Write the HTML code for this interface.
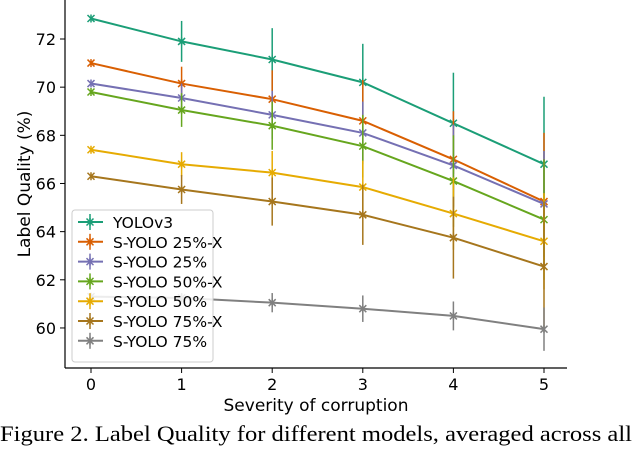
<!DOCTYPE html>
<html><head><meta charset="utf-8"><style>
body{margin:0;background:#fff;width:640px;height:447px;overflow:hidden}
svg text{font-family:"DejaVu Sans","Liberation Sans",sans-serif}
</style></head><body>
<svg id="chart" width="640" height="447" xmlns="http://www.w3.org/2000/svg">
<g id="axes"></g>
<g id="series"></g>
<g id="legend"></g>
<text x="316" y="411" font-size="17" text-anchor="middle" fill="#000">Severity of corruption</text>
<text transform="translate(30,184) rotate(-90)" font-size="17" text-anchor="middle" fill="#000">Label Quality (%)</text>
<text x="0" y="441" font-size="22" textLength="632" lengthAdjust="spacingAndGlyphs" style="font-family:'Liberation Serif',serif" fill="#000">Figure 2. Label Quality for different models, averaged across all</text>
</svg>
<script>
const severities=[0,1,2,3,4,5];
const yTicks=[60,62,64,66,68,70,72];
const seriesNames=["YOLOv3","S-YOLO 25%-X","S-YOLO 25%","S-YOLO 50%-X","S-YOLO 50%","S-YOLO 75%-X","S-YOLO 75%"];
const seriesColors=["#1b9e77","#d95f02","#7570b3","#66a61e","#e6ab02","#a6761d","#808080"];
const yolov3=[72.85,71.9,71.15,70.2,68.5,66.8];
const syolo25x=[71.0,70.15,69.5,68.6,67.0,65.25];
const syolo25=[70.15,69.55,68.85,68.1,66.75,65.15];
const syolo50x=[69.8,69.05,68.4,67.55,66.1,64.5];
const syolo50=[67.4,66.8,66.45,65.85,64.75,63.6];
const syolo75x=[66.3,65.75,65.25,64.7,63.75,62.55];
const syolo75=[61.3,61.25,61.05,60.8,60.5,59.95];
const errYolov3=[0,0.85,1.3,1.6,2.1,2.8];
const err25x=[0,0.7,1.2,1.7,2.0,2.85];
const err25=[0,0.6,1.0,1.3,1.7,2.2];
const err50x=[0,0.7,1.0,1.3,1.9,2.5];
const err50=[0,0.5,0.9,1.1,1.5,2.0];
const err75x=[0,0.6,1.0,1.25,1.7,2.7];
const err75=[0,0.2,0.4,0.55,0.6,0.9];
const allValues=[yolov3,syolo25x,syolo25,syolo50x,syolo50,syolo75x,syolo75];
const allErrors=[errYolov3,err25x,err25,err50x,err50,err75x,err75];

const NS="http://www.w3.org/2000/svg";
const X=v=>91+v*90.6;
const Y=v=>39+(72-v)*24.08;
function mk(tag,attrs,parent){const e=document.createElementNS(NS,tag);for(const k in attrs)e.setAttribute(k,attrs[k]);parent.appendChild(e);return e;}
const axes=document.getElementById('axes');
let sp=mk('line',{x1:65,y1:0,x2:65,y2:368,stroke:'#000','stroke-width':1.2},axes);


sp=mk('line',{x1:65,y1:368,x2:567,y2:368,stroke:'#000','stroke-width':1.2},axes);


severities.forEach(s=>{
  mk('line',{x1:X(s),y1:368,x2:X(s),y2:373,stroke:'#000'},axes);
  const t=mk('text',{x:X(s),y:390,'font-size':16,'text-anchor':'middle'},axes);t.textContent=s;
  
  
});
yTicks.forEach(v=>{
  mk('line',{x1:60,y1:Y(v),x2:65,y2:Y(v),stroke:'#000'},axes);
  const t=mk('text',{x:56,y:Y(v)+6,'font-size':16,'text-anchor':'end'},axes);t.textContent=v;
  
  
});
const sg=document.getElementById('series');
function marker(g,x,y,c){
  mk('path',{d:`M${x-3.5} ${y-3.5}L${x+3.5} ${y+3.5}M${x-3.5} ${y+3.5}L${x+3.5} ${y-3.5}M${x} ${y-4}L${x} ${y+4}`,stroke:c,'stroke-width':1.5,fill:'none'},g);
}
allValues.forEach((vals,i)=>{
  const c=seriesColors[i];
  const g=mk('g',{},sg);
  
  
  vals.forEach((v,j)=>{const e=allErrors[i][j];if(e>0){mk('line',{x1:X(severities[j]),x2:X(severities[j]),y1:Y(v+e),y2:Y(v-e),stroke:c,'stroke-width':1.5},g);}});
  const ln=mk('polyline',{points:vals.map((v,j)=>X(severities[j])+','+Y(v)).join(' '),fill:'none',stroke:c,'stroke-width':2},g);
  
  
  vals.forEach((v,j)=>marker(g,X(severities[j]),Y(v),c));
});
const lg=document.getElementById('legend');
mk('rect',{x:72,y:210,width:141,height:152,rx:3,fill:'#fff','fill-opacity':0.85,stroke:'#ccc'},lg);
seriesNames.forEach((n,i)=>{
  const y=222+i*19.8,c=seriesColors[i];
  const g=mk('g',{},lg);
  
  
  mk('line',{x1:78,x2:103,y1:y,y2:y,stroke:c,'stroke-width':2},g);
  mk('line',{x1:90,x2:90,y1:y-8,y2:y+8,stroke:c,'stroke-width':1.5},g);
  marker(g,90,y,c);
  const t=mk('text',{x:113,y:y+6,'font-size':15.5},g);t.textContent=n;
});
</script>
</body></html>
